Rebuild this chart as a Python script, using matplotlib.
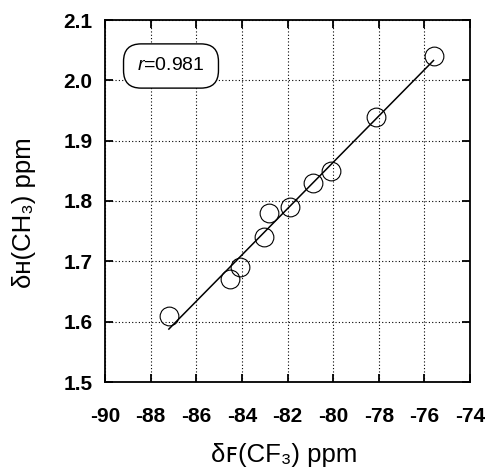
import numpy as np
import matplotlib
matplotlib.use("Agg")
import matplotlib.pyplot as plt

plt.rcParams['font.family'] = ['Liberation Sans', 'DejaVu Sans']
plt.rcParams['mathtext.fontset'] = 'custom'
plt.rcParams['mathtext.rm'] = 'Liberation Sans'
plt.rcParams['mathtext.it'] = 'Liberation Sans:italic'

# Data
x_shift = [-87.2, -84.5, -84.1, -83.05, -82.8, -81.9, -80.9, -80.1, -78.1, -75.6]
y_shift = [1.61, 1.67, 1.69, 1.74, 1.78, 1.79, 1.83, 1.85, 1.94, 2.04]
x_ticks = [-90, -88, -86, -84, -82, -80, -78, -76, -74]
y_ticks = [1.5, 1.6, 1.7, 1.8, 1.9, 2.0, 2.1]
r_label = "$r$=0.981"
x_label = "\u03b4\ua730(CF\u2083) ppm"
y_label = "\u03b4\u029c(CH\u2083) ppm"

fig = plt.figure(figsize=(4.86, 4.70), dpi=100)
ax = fig.add_axes([105/486, 1-382/470, 365/486, 362/470])

# regression line
coef = np.polyfit(x_shift, y_shift, 1)
xl = np.array([min(x_shift), max(x_shift)])
ax.plot(xl, np.polyval(coef, xl), color='black', lw=1.1, zorder=3)

ax.plot(x_shift, y_shift, linestyle='none', marker='o', markersize=13.5,
        markerfacecolor='none', markeredgecolor='black', markeredgewidth=0.8, zorder=4)

ax.set_xlim(-90, -74)
ax.set_ylim(1.5, 2.1)
ax.set_xticks(x_ticks)
ax.set_yticks(y_ticks)
ax.set_xticklabels([f"{v:d}" for v in x_ticks], fontweight='bold')
ax.set_yticklabels([f"{v:.1f}" for v in y_ticks], fontweight='bold')

ax.grid(True, color='black', linestyle=(0, (1, 2)), linewidth=0.8)
ax.set_axisbelow(True)
ax.tick_params(direction='in', length=6, width=1.3, top=True, right=True,
               labelsize=15, colors='black')
ax.tick_params(axis='x', pad=18)
ax.tick_params(axis='y', pad=9)
for s in ax.spines.values():
    s.set_linewidth(1.3)
    s.set_color('black')

ax.set_xlabel(x_label, fontsize=18.5)
ax.xaxis.label.set_va('baseline')
ax.xaxis.set_label_coords((284-105)/365, (382-462)/362)
ax.set_ylabel(y_label, fontsize=18.5)
ax.yaxis.label.set_va('center')
ax.yaxis.set_label_coords((24-105)/365, (382-213)/362)

ax.text((171-105)/365, (382-66)/362, r_label, transform=ax.transAxes,
        fontsize=14, ha='center', va='center',
        bbox=dict(boxstyle='round,pad=0.7,rounding_size=0.9', facecolor='white',
                  edgecolor='black', linewidth=1.0), zorder=5)

fig.savefig('out.png', dpi=100, facecolor='white')
